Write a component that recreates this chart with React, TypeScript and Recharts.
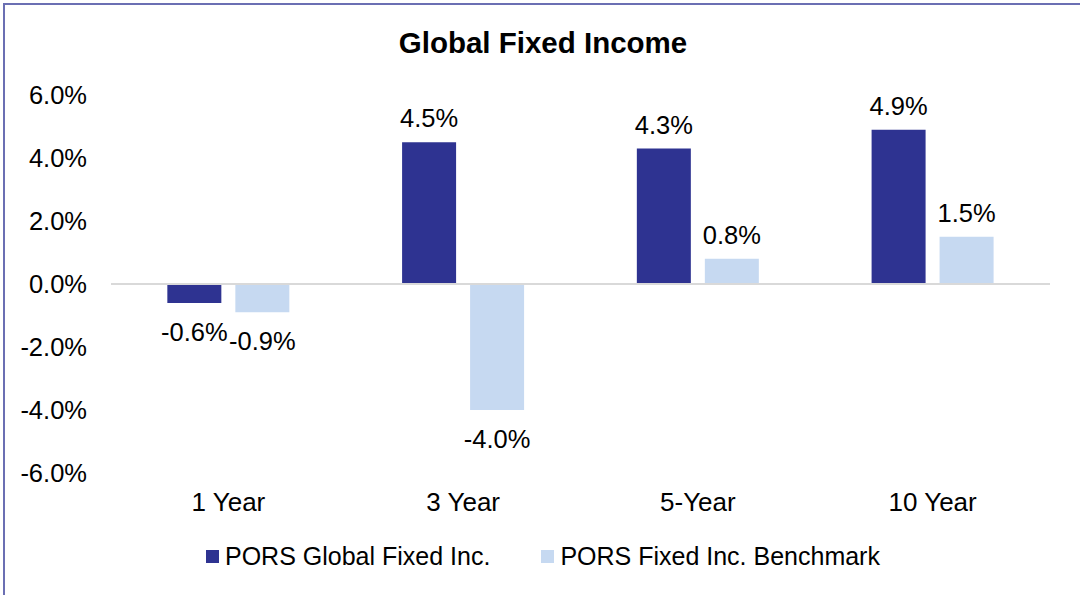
import React from "react";
import { BarChart, Bar, XAxis, YAxis, ReferenceLine, LabelList } from "recharts";

// periods shown on the x axis
const periods = ["1 Year", "3 Year", "5-Year", "10 Year"];
// annualised returns, in percent
const fundReturns = [-0.6, 4.5, 4.3, 4.9];
const benchmarkReturns = [-0.9, -4.0, 0.8, 1.5];
const yTicks = [-6, -4, -2, 0, 2, 4, 6];

const FUND = "PORS Global Fixed Inc.";
const BENCH = "PORS Fixed Inc. Benchmark";

const data = periods.map((p, i) => ({
  period: p,
  fund: fundReturns[i],
  bench: benchmarkReturns[i],
}));

const FONT = "'Liberation Sans', Arial, sans-serif";
const DARK = "#2E3391";
const LIGHT = "#C6D9F1";
const TXT = 25.5;

const fmt = (v: number) => `${v.toFixed(1)}%`;

// value label: above positive bars, below negative ones
function ValueLabel(props: any) {
  const { x, y, width, height, value } = props;
  const top = Math.min(y, y + height);
  const bottom = Math.max(y, y + height);
  const ty = value >= 0 ? top - 24 : bottom + 29;
  return (
    <text
      x={x + width / 2}
      y={ty}
      textAnchor="middle"
      dominantBaseline="central"
      fontSize={TXT}
      fontFamily={FONT}
      fill="#000"
    >
      {fmt(value)}
    </text>
  );
}

function LegendRow() {
  const item = (color: string, label: string) => (
    <div style={{ display: "flex", alignItems: "center" }}>
      <div style={{ width: 13, height: 13, background: color, marginRight: 6 }} />
      <span>{label}</span>
    </div>
  );
  return (
    <div
      style={{
        position: "absolute",
        top: 539,
        left: 206,
        display: "flex",
        gap: 51,
        fontFamily: FONT,
        fontSize: 25,
        color: "#000",
        lineHeight: "34px",
      }}
    >
      {item(DARK, FUND)}
      {item(LIGHT, BENCH)}
    </div>
  );
}

export default function App() {
  return (
    <div
      style={{
        position: "absolute",
        left: 0,
        top: 0,
        width: 1080,
        height: 595,
        overflow: "hidden",
        background: "#fff",
      }}
    >
      <div
        style={{
          position: "absolute",
          left: 3,
          top: 3,
          width: 1100,
          height: 620,
          border: "2px solid #6B6FB3",
        }}
      />
      <div
        style={{
          position: "absolute",
          top: 25,
          left: 0,
          width: 1086,
          textAlign: "center",
          fontFamily: FONT,
          fontWeight: "bold",
          fontSize: 29.5,
          lineHeight: "36px",
        }}
      >
        Global Fixed Income
      </div>
      <div style={{ position: "absolute", left: 0, top: 0 }}>
        <BarChart
          width={1080}
          height={595}
          data={data}
          margin={{ top: 95, right: 30, bottom: 82, left: 0 }}
          barGap={14}
          barCategoryGap="24%"
        >
          <XAxis
            dataKey="period"
            axisLine={false}
            tickLine={false}
            tickSize={0}
            tickMargin={20}
            height={40}
            tick={{ fontSize: 26, fontFamily: FONT, fill: "#000" }}
            interval={0}
          />
          <YAxis
            domain={[-6, 6]}
            ticks={yTicks}
            width={111}
            axisLine={false}
            tickLine={false}
            tickSize={0}
            tickMargin={24}
            tickFormatter={fmt}
            tick={{ fontSize: TXT, fontFamily: FONT, fill: "#000" }}
          />
          <ReferenceLine y={0} stroke="#D9D9D9" strokeWidth={2} />
          <Bar dataKey="fund" name={FUND} fill={DARK} isAnimationActive={false}>
            <LabelList dataKey="fund" content={ValueLabel} />
          </Bar>
          <Bar dataKey="bench" name={BENCH} fill={LIGHT} isAnimationActive={false}>
            <LabelList dataKey="bench" content={ValueLabel} />
          </Bar>
        </BarChart>
      </div>
      <LegendRow />
    </div>
  );
}
